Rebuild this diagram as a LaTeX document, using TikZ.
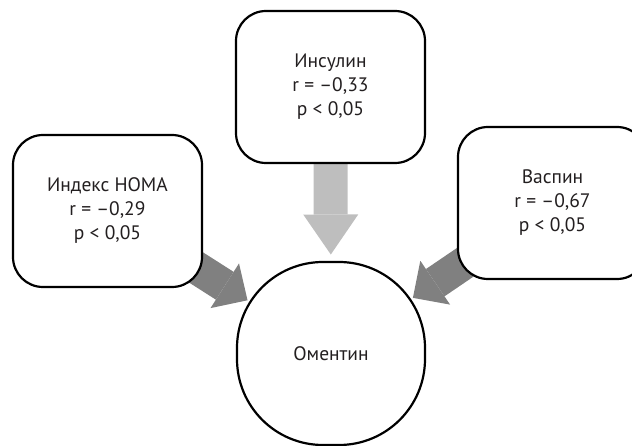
\documentclass[tikz,border=0pt]{standalone}
\usepackage{fontspec}
\setmainfont{PT Sans}
\usetikzlibrary{arrows.meta,calc,backgrounds}
\definecolor{lightarrow}{HTML}{BEBEBE}
\definecolor{darkarrow}{HTML}{808080}
\definecolor{inktext}{HTML}{231F20}
\begin{document}
\begin{tikzpicture}[x=1pt,y=-1pt,
  box/.style={draw,line width=2.2pt,fill=white,rounded corners=30pt,minimum width=189pt,minimum height=152pt,align=center,text=inktext,font=\fontsize{19.5}{24}\selectfont},
  roundbox/.style={draw,line width=2.2pt,fill=white,rounded corners=86pt,minimum width=188pt,minimum height=183pt,text=inktext,font=\fontsize{19.5}{24}\selectfont},
  toparrow/.style={draw=lightarrow,line width=34pt,-{Triangle[length=40pt,width=55pt,line width=0pt,fill=lightarrow]}},
  sidearrow/.style={draw=darkarrow,line width=33pt,-{Triangle[length=27pt,width=53pt,line width=0pt,fill=darkarrow]}}]
\useasboundingbox (0,0) rectangle (632,446);

\node[box](insulin) at (330.5,87){Инсулин\\r = –0,33\\p < 0,05};
\node[box](homa) at (107.5,211){Индекс НОМА\\r = –0,29\\p < 0,05};
\node[box](vaspin) at (552.5,203){Васпин\\r = –0,67\\p < 0,05};
\node[roundbox](omentin) at (331,353.5){Оментин};

% arrow tips stop just short of the circle
\coordinate(tipI) at ($(omentin.center)!99pt!(insulin.center)$);
\coordinate(tipH) at ($(omentin.center)!99pt!(homa.center)$);
\coordinate(tipV) at ($(omentin.center)!99pt!(vaspin.center)$);

\begin{scope}[on background layer]
\draw[toparrow](insulin.center)--(tipI);
\draw[sidearrow](homa.center)--(tipH);
\draw[sidearrow](vaspin.center)--(tipV);
\end{scope}
\end{tikzpicture}
\end{document}
